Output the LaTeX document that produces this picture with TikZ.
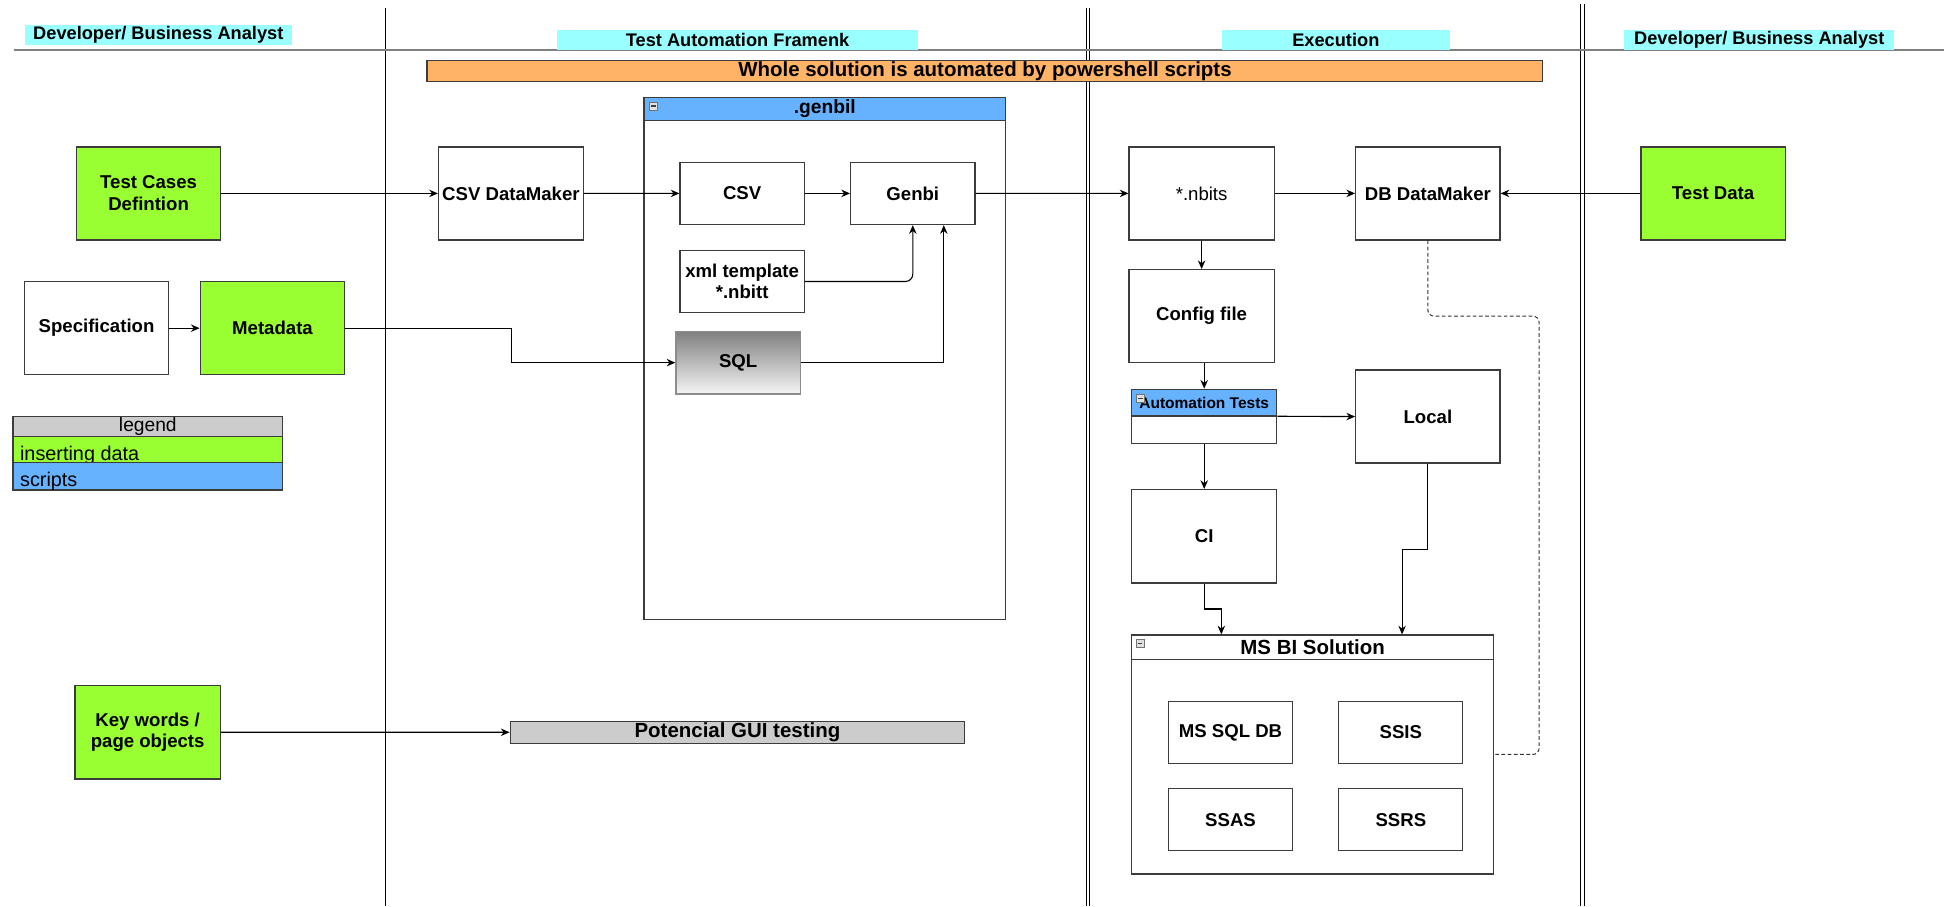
\documentclass[tikz,border=0pt]{standalone}
\usepackage{fontspec}
\setmainfont{Liberation Sans}
\usetikzlibrary{arrows.meta,calc}
\definecolor{cgreen}{HTML}{99FF33}
\definecolor{cblue}{HTML}{66B2FF}
\definecolor{ccyan}{HTML}{99FFFF}
\definecolor{corange}{HTML}{FFB366}
\definecolor{cgray}{HTML}{CCCCCC}
\definecolor{cline}{HTML}{808080}
\definecolor{cborder}{HTML}{3C3C3C}
\begin{document}
\begin{tikzpicture}[x=1pt,y=-1pt,
  box/.style={draw=cborder, line width=1pt, fill=white, anchor=north west, inner sep=1pt, align=center,
    font=\fontsize{15}{17.5}\selectfont\bfseries},
  gbox/.style={box, fill=cgreen},
  sz/.style 2 args={minimum width=#1, minimum height=#2},
  lanelabel/.style={fill=ccyan, anchor=north west, inner sep=0pt, font=\fontsize{14.7}{16}\selectfont\bfseries},
  bar/.style={draw=cborder, line width=0.9pt, anchor=north west, inner sep=0pt, font=\fontsize{16.5}{18}\selectfont\bfseries},
  arr/.style={-{Stealth[length=7pt,width=6pt]}, line width=0.9pt, draw=black},
  dashl/.style={line width=0.8pt, draw=black!80, dash pattern=on 3pt off 2pt},
  lane/.style={line width=0.8pt, draw=black},
  icon/.style={anchor=north west, draw=black!55, fill=black!12, minimum width=6.5pt, minimum height=6.5pt,
    inner sep=0pt, line width=0.5pt,
    path picture={\draw[black!75, line width=0.9pt] ([xshift=1.4pt]path picture bounding box.west) -- ([xshift=-1.4pt]path picture bounding box.east);}},
  legtext/.style={anchor=base west, inner sep=0pt, font=\fontsize{16}{18}\selectfont}
]
\useasboundingbox (0,0) rectangle (1568,731);
\fill[white] (0,0) rectangle (1568,731);

% swimlanes
\coordinate (l1t) at (311,6.7);   \coordinate (l1b) at (311,731);
\coordinate (l2t) at (876,6.7);   \coordinate (l2b) at (876,731);
\coordinate (l3t) at (879,6.7);   \coordinate (l3b) at (879,731);
\coordinate (l4t) at (1274.5,3.2); \coordinate (l4b) at (1274.5,731);
\coordinate (l5t) at (1277.7,3.2); \coordinate (l5b) at (1277.7,731);
\coordinate (hl) at (11,40.3);    \coordinate (hr) at (1568,40.3);
\draw[lane] (l1t) -- (l1b);
\draw[lane] (l2t) -- (l2b);
\draw[lane] (l3t) -- (l3b);
\draw[lane] (l4t) -- (l4b);
\draw[lane] (l5t) -- (l5b);
\draw[cline, line width=1.6pt] (hl) -- (hr);

\node[lanelabel, sz={215pt}{16.7pt}] (hdev1) at (20,19.6) {Developer/ Business Analyst};
\node[lanelabel, sz={291.5pt}{16.2pt}] (htaf) at (449,23.7) {Test Automation Framenk};
\node[lanelabel, sz={183.5pt}{16.2pt}] (hexe) at (985.5,23.7) {Execution};
\node[lanelabel, sz={217.6pt}{16.2pt}] (hdev2) at (1310,23.7) {Developer/ Business Analyst};

% orange bar
\node[bar, fill=corange, sz={900pt}{17pt}] (whole) at (344,48.4) {Whole solution is automated by powershell scripts};

% genbil container
\node[draw=cborder, line width=1pt, anchor=north west, sz={291.7pt}{421.3pt}] (genbil) at (518.9,78) {};
\node[draw=cborder, line width=1pt, fill=cblue, anchor=north west, inner sep=0pt, sz={291.7pt}{18.8pt},
  font=\fontsize{15.5}{17}\selectfont\bfseries] (genbilh) at (518.9,78) {.genbil};
\node[icon] (icon1) at (523.5,82) {};

% left column
\node[gbox, sz={116.3pt}{75pt}] (tc) at (61.2,118) {Test Cases\\Defintion};
\node[box, sz={116.7pt}{75pt}] (spec) at (19,226.7) {Specification};
\node[gbox, sz={116.6pt}{75pt}] (meta) at (161,226.7) {Metadata};
\node[gbox, sz={117.2pt}{75.3pt}] (kw) at (60,552.5) {Key words /\\page objects};

% legend
\node[draw=cborder, line width=0.9pt, fill=cgray, anchor=north west, inner sep=0pt, sz={217.6pt}{16.1pt},
  font=\fontsize{15.5}{17}\selectfont] (legh) at (10,335.6) {legend};
\node[draw=cborder, line width=0.9pt, fill=cgreen, anchor=north west, inner sep=0pt, sz={217.6pt}{20.9pt}] (leg1) at (10,351.7) {};
\node[legtext] (leg1t) at (16,371.6) {inserting data};
\node[draw=cborder, line width=0.9pt, fill=cblue, anchor=north west, inner sep=0pt, sz={217.6pt}{21.8pt}] (leg2) at (10,372.6) {};
\begin{scope}
  \clip (leg2.north west) rectangle (leg2.south east);
  \node[legtext] (leg2t) at (16,392.6) {scripts};
\end{scope}
\draw[cborder, line width=0.9pt] (leg2.south west) -- (leg2.south east);

% middle
\node[box, sz={116.8pt}{75pt}] (csvdm) at (353.2,118) {CSV DataMaker};
\node[box, sz={100.2pt}{50.2pt}] (csv) at (548,130.4) {CSV};
\node[box, sz={100.3pt}{50.2pt}] (genbi) at (685.6,130.4) {Genbi};
\node[box, sz={100.2pt}{50.3pt}] (xml) at (548,201.4) {xml template\\*.nbitt};
\node[box, draw=black!45, top color=black!50, bottom color=black!4, sz={100.3pt}{50.6pt}] (sql) at (544.7,266.7) {SQL};
\node[bar, fill=cgray, sz={366.7pt}{17.7pt}] (gui) at (411,581.3) {Potencial GUI testing};

% execution
\node[box, font=\fontsize{15}{17.5}\selectfont, sz={117pt}{75pt}] (nbits) at (910.2,118) {*.nbits};
\node[box, sz={116.4pt}{75pt}] (dbdm) at (1093,118) {DB DataMaker};
\node[box, sz={117pt}{75pt}] (config) at (910.2,217) {Config file};
\node[draw=cborder, line width=1pt, fill=white, anchor=north west, sz={117pt}{43.5pt}] (autot) at (912.3,313.5) {};
\node[draw=cborder, line width=1pt, fill=cblue, anchor=north west, inner sep=0pt, sz={117pt}{21.5pt},
  font=\fontsize{12.5}{14}\selectfont\bfseries] (autoth) at (912.3,313.5) {Automation Tests};
\node[icon] (icon2) at (916.3,317.8) {};
\node[box, sz={116.4pt}{75pt}] (local) at (1093,298) {Local};
\node[box, sz={117pt}{75.3pt}] (ci) at (912.3,394.4) {CI};

\node[draw=cborder, line width=1pt, anchor=north west, sz={291.8pt}{192.7pt}] (msbi) at (912.3,511.7) {};
\node[draw=cborder, line width=1pt, anchor=north west, inner sep=0pt, sz={291.8pt}{19.6pt},
  font=\fontsize{16.5}{18}\selectfont\bfseries] (msbih) at (912.3,511.7) {MS BI Solution};
\node[icon] (icon3) at (916,515.5) {};
\node[box, sz={100pt}{50.2pt}] (mssql) at (942,565.2) {MS SQL DB};
\node[box, sz={100pt}{50.2pt}] (ssis) at (1079.4,565.2) {SSIS};
\node[box, sz={100pt}{50pt}] (ssas) at (942,635.6) {SSAS};
\node[box, sz={100pt}{50pt}] (ssrs) at (1079.4,635.6) {SSRS};

\node[gbox, sz={116.5pt}{75pt}] (testdata) at (1323,118) {Test Data};

% connectors
\draw[arr] (tc) -- (csvdm);
\draw[arr] (csvdm) -- (csv);
\draw[arr] (csv) -- (genbi);
\draw[arr] (genbi) -- (nbits);
\draw[arr] (nbits) -- (dbdm);
\draw[arr] (testdata) -- (dbdm);
\draw[arr] (spec) -- (meta);
\draw[arr] (meta.east) -- ++(134,0) |- (sql.west);
\draw[arr, rounded corners=6pt] (xml.east) -| (genbi.south);
\draw[arr] (sql.east) -| ([xshift=25pt]genbi.south);
\draw[arr] (nbits.south) -- (config.north);
\draw[arr] (autot.north |- config.south) -- (autot.north);
\draw[arr] (autot.east) -- (local.west);
\draw[arr] (autot.south) -- (ci.north);
\draw[arr] (ci.south) -- ++(0,20.5) -| ($(msbi.north west)+(72.8,0)$);
\draw[arr] (local.south) -- ++(0,69.4) -| ($(msbi.north west)+(218.6,0)$);
\coordinate (d1) at (1241.4,255);
\draw[dashl, rounded corners=5pt] (dbdm.south) |- (d1) |- (msbi.east);
\draw[arr] (kw) -- (gui);
\end{tikzpicture}
\end{document}
